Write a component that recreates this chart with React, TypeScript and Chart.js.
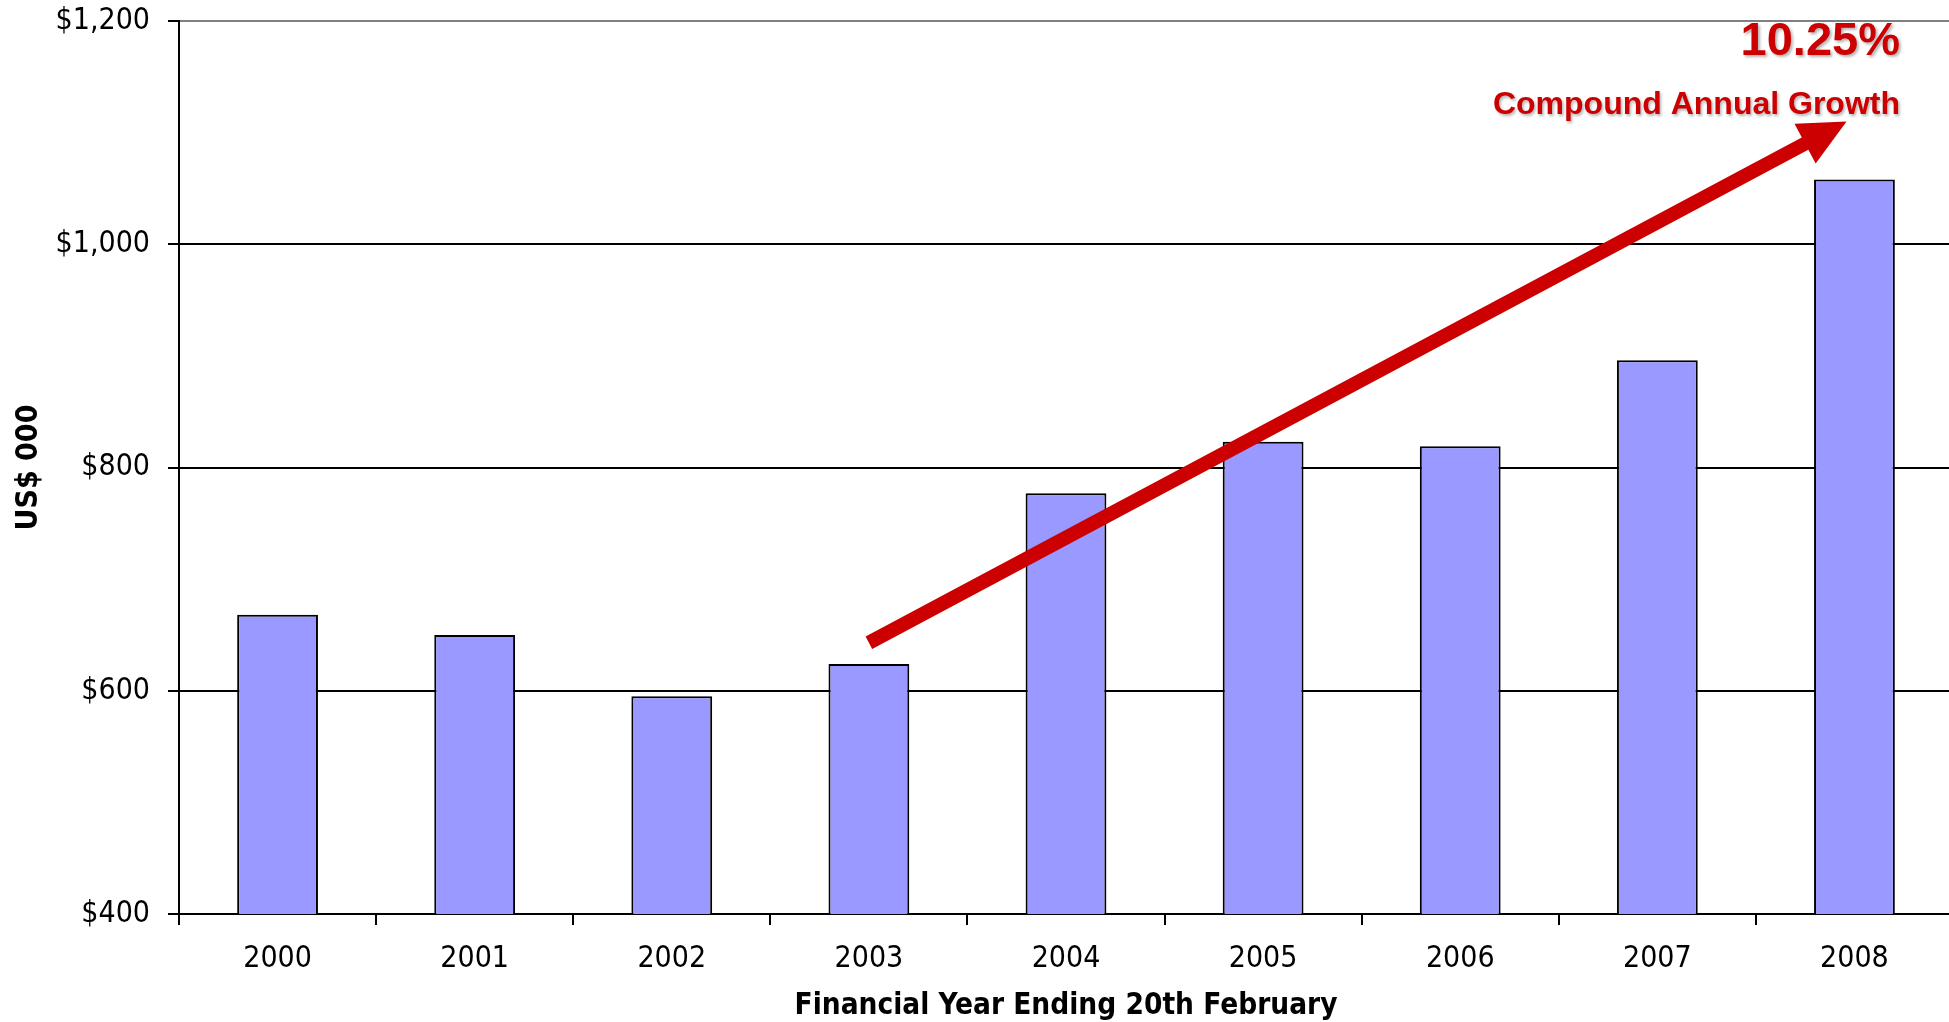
import React, { useEffect, useRef } from "react";
import { Chart, registerables } from "chart.js";

Chart.register(...registerables);

// Revenue by financial year (US$ 000)
const YEARS = ["2000", "2001", "2002", "2003", "2004", "2005", "2006", "2007", "2008"];
const REVENUE = [668, 650, 595, 624, 777, 823, 819, 896, 1058];

// Value axis
const Y_MIN = 400;
const Y_MAX = 1200;
const Y_STEP = 200;

// Growth arrow, in data space: [category index, value]
const ARROW_START = [3, 643];
const ARROW_TIP = [7.96, 1110];

const GROWTH_RATE = "10.25%";
const GROWTH_CAPTION = "Compound Annual Growth";

const RED = "#CC0000";
const BAR_FILL = "#9999FF";
const AXIS_FONT = "'DejaVu Sans Condensed', 'DejaVu Sans', Verdana, sans-serif";

const growthArrow = {
  id: "growthArrow",
  afterDatasetsDraw(chart: any) {
    const { ctx, chartArea } = chart;
    const xs = chart.scales.x;
    const ys = chart.scales.y;
    const x0 = xs.getPixelForValue(ARROW_START[0]);
    const y0 = ys.getPixelForValue(ARROW_START[1]);
    const x1 = xs.getPixelForValue(ARROW_TIP[0]);
    const y1 = ys.getPixelForValue(ARROW_TIP[1]);
    const dx = x1 - x0;
    const dy = y1 - y0;
    const len = Math.hypot(dx, dy);
    const ux = dx / len;
    const uy = dy / len;
    const headLen = 47;
    const headHalf = 22.5;
    const bx = x1 - ux * headLen;
    const by = y1 - uy * headLen;

    ctx.save();
    ctx.strokeStyle = RED;
    ctx.fillStyle = RED;
    ctx.lineWidth = 14;
    ctx.lineCap = "butt";
    ctx.beginPath();
    ctx.moveTo(x0, y0);
    ctx.lineTo(bx + ux * 2, by + uy * 2);
    ctx.stroke();

    ctx.beginPath();
    ctx.moveTo(x1, y1);
    ctx.lineTo(bx - uy * headHalf, by + ux * headHalf);
    ctx.lineTo(bx + uy * headHalf, by - ux * headHalf);
    ctx.closePath();
    ctx.fill();

    // Caption with a soft drop shadow
    ctx.textAlign = "right";
    ctx.textBaseline = "alphabetic";
    ctx.shadowColor = "rgba(0,0,0,0.3)";
    ctx.shadowBlur = 3;
    ctx.shadowOffsetX = 2;
    ctx.shadowOffsetY = 2;
    const tx = chartArea.right - 53;
    ctx.font = "bold 47px 'Liberation Sans', Arial, sans-serif";
    ctx.fillText(GROWTH_RATE, tx, chartArea.top + 34);
    ctx.shadowOffsetX = 1.5;
    ctx.shadowOffsetY = 1.5;
    ctx.font = "bold 32px 'Liberation Sans', Arial, sans-serif";
    ctx.fillText(GROWTH_CAPTION, tx, chartArea.top + 93);
    ctx.restore();
  },
};

export default function App() {
  const canvasRef = useRef<HTMLCanvasElement | null>(null);

  useEffect(() => {
    const canvas = canvasRef.current;
    if (!canvas) return;
    const chart = new Chart(canvas, {
      type: "bar",
      data: {
        labels: YEARS,
        datasets: [
          {
            data: REVENUE,
            backgroundColor: BAR_FILL,
            borderColor: "#000000",
            borderWidth: 2,
            barPercentage: 0.41,
            categoryPercentage: 1,
          },
        ],
      },
      options: {
        animation: false,
        responsive: false,
        devicePixelRatio: 1,
        layout: { padding: { top: 21, left: 0, right: 0, bottom: 0 } },
        plugins: {
          legend: { display: false },
          tooltip: { enabled: false },
          title: { display: false },
        },
        scales: {
          x: {
            afterFit: (scale: any) => {
              scale.height = 108;
            },
            grid: {
              drawOnChartArea: false,
              drawTicks: true,
              tickLength: 11,
              color: "#000000",
              lineWidth: 2,
            },
            border: { display: true, color: "#000000", width: 2 },
            ticks: {
              color: "#000000",
              padding: 16,
              maxRotation: 0,
              font: { family: AXIS_FONT, size: 30 },
            },
            title: {
              display: true,
              text: "Financial Year Ending 20th February",
              color: "#000000",
              font: { family: AXIS_FONT, size: 29.5, weight: "bold" },
              padding: { top: 0, bottom: -2 },
            },
          },
          y: {
            min: Y_MIN,
            max: Y_MAX,
            afterFit: (scale: any) => {
              scale.width = 179;
              scale.paddingTop = 0;
              scale.paddingBottom = 0;
            },
            grid: {
              drawTicks: true,
              tickLength: 11,
              lineWidth: 2,
              color: (c: any) => (c.tick && c.tick.value === Y_MAX ? "#808080" : "#000000"),
              tickColor: "#000000",
            },
            border: { display: true, color: "#000000", width: 2 },
            ticks: {
              stepSize: Y_STEP,
              color: "#000000",
              padding: 18,
              font: { family: AXIS_FONT, size: 30 },
              callback: (v: any) => "$" + Number(v).toLocaleString("en-US"),
            },
            title: {
              display: true,
              text: "US$ 000",
              color: "#000000",
              font: { family: AXIS_FONT, size: 30, weight: "bold" },
              padding: { top: 11, bottom: 0 },
            },
          },
        },
      },
      plugins: [growthArrow],
    });
    return () => chart.destroy();
  }, []);

  return (
    <div
      style={{
        position: "fixed",
        left: 0,
        top: 0,
        width: 1949,
        height: 1022,
        overflow: "hidden",
        background: "#ffffff",
      }}
    >
      <canvas ref={canvasRef} width={1953} height={1022} style={{ width: 1953, height: 1022, display: "block" }} />
    </div>
  );
}
